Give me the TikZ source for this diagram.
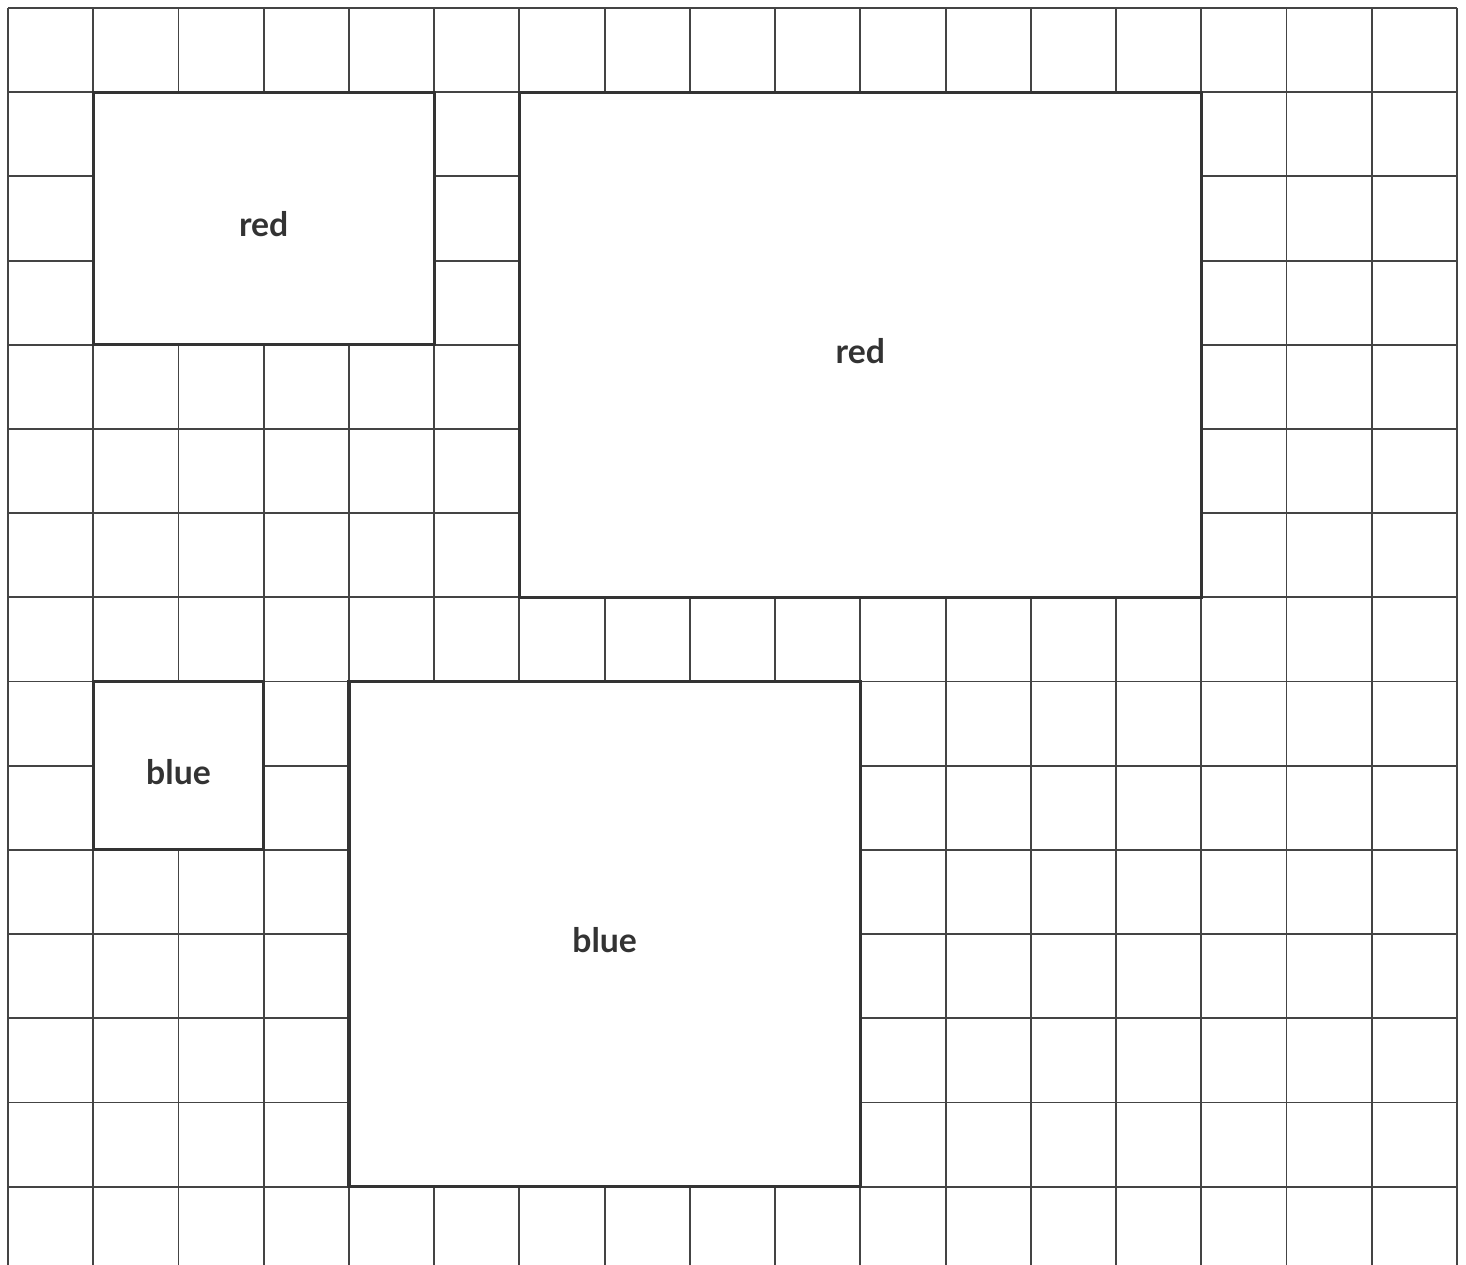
\documentclass[tikz,border=0pt]{standalone}
\usepackage{fontspec}
\setmainfont{Lato}
\usetikzlibrary{positioning}

\definecolor{gridgray}{HTML}{444444}
\definecolor{boxgray}{HTML}{333333}

\newcommand{\cellw}{0.8524cm}
\newcommand{\cellh}{0.842cm}

\begin{document}
\begin{tikzpicture}[
  x=\cellw, y=\cellh,
  gridline/.style={draw=gridgray, line width=0.55pt},
  shapebox/.style={
    draw=boxgray, fill=white, line width=0.9pt, inner sep=0pt,
    text height=10.5pt, text depth=0pt,
    font=\fontsize{9.6}{12}\selectfont\bfseries, text=boxgray
  }
]

\useasboundingbox (-0.094,0.095) rectangle (17.106,-14.926);

% background grid
\foreach \i in {0,...,17}
  \draw[gridline] (\i,0) -- (\i,-14.926);
\foreach \j in {0,...,14}
  \draw[gridline] (0,-\j) -- (17,-\j);

% shapes on the grid
\node[shapebox, minimum width=4*\cellw, minimum height=3*\cellh] (redsmall)  at (3,-2.5) {red};
\node[shapebox, minimum width=8*\cellw, minimum height=6*\cellh] (redbig)    at (10,-4)  {red};
\node[shapebox, minimum width=2*\cellw, minimum height=2*\cellh] (bluesmall) at (2,-9)   {blue};
\node[shapebox, minimum width=6*\cellw, minimum height=6*\cellh] (bluebig)   at (7,-11)  {blue};

\end{tikzpicture}
\end{document}
